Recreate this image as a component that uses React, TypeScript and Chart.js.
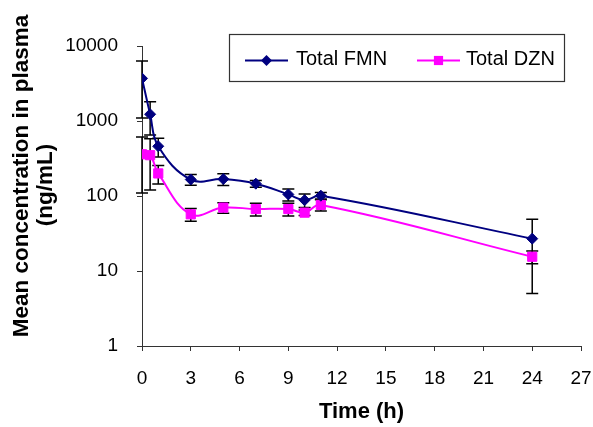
import React, { useEffect, useRef } from 'react';
import { Chart, registerables } from 'chart.js';

Chart.register(...registerables);

// ---- Data ----
const times = [0, 0.5, 1, 3, 5, 7, 9, 10, 11, 24];
const fmnMean = [3700, 1230, 460, 166, 168, 146, 105, 88, 101, 27];
const fmnSd = [2600, 580, 130, 27, 30, 15, 19, 18, 10, 22];
const dznMean = [360, 350, 200, 57, 70, 67, 67, 60, 76, 15.5];
const dznSd = [250, 230, 55, 11, 11, 13, 13, 5, 13, 3];
const seriesNames = ['Total FMN', 'Total DZN'];
const yTicks = [1, 10, 100, 1000, 10000];
const xTicks = [0, 3, 6, 9, 12, 15, 18, 21, 24, 27];
const yTitleLines = ['Mean concentration in plasma', '(ng/mL)'];
const xTitle = 'Time (h)';

const FONT = '"Liberation Sans", Arial, Helvetica, sans-serif';
const AXIS = '#333333';

const errorBarPlugin = {
  id: 'errorBars',
  beforeDatasetsDraw(chart: any) {
    const { ctx } = chart;
    const x = chart.scales.x;
    const y = chart.scales.y;
    ctx.save();
    ctx.strokeStyle = '#000000';
    ctx.lineWidth = 1.5;
    chart.data.datasets.forEach((ds: any) => {
      const errs: number[] = ds.errors || [];
      ds.data.forEach((pt: any, j: number) => {
        const e = errs[j];
        if (e == null) return;
        const px = x.getPixelForValue(pt.x);
        const hi = y.getPixelForValue(pt.y + e);
        const lo = y.getPixelForValue(Math.max(pt.y - e, 0.001));
        const cap = 6;
        ctx.beginPath();
        ctx.moveTo(px, hi);
        ctx.lineTo(px, lo);
        ctx.moveTo(px - cap, hi);
        ctx.lineTo(px + cap, hi);
        ctx.moveTo(px - cap, lo);
        ctx.lineTo(px + cap, lo);
        ctx.stroke();
      });
    });
    ctx.restore();
  },
};

const boxLegendPlugin = {
  id: 'boxLegend',
  afterDraw(chart: any) {
    const { ctx } = chart;
    ctx.save();
    ctx.strokeStyle = '#333333';
    ctx.lineWidth = 1.2;
    ctx.strokeRect(229.5, 34.5, 335, 47);
    const items = [
      { lineX0: 245, lineX1: 288, textX: 296 },
      { lineX0: 417, lineX1: 460, textX: 466 },
    ];
    const ly = 60.5;
    chart.data.datasets.forEach((ds: any, i: number) => {
      const it = items[i];
      ctx.strokeStyle = ds.borderColor;
      ctx.lineWidth = 2;
      ctx.beginPath();
      ctx.moveTo(it.lineX0, ly);
      ctx.lineTo(it.lineX1, ly);
      ctx.stroke();
      const cx = (it.lineX0 + it.lineX1) / 2;
      ctx.fillStyle = ds.backgroundColor;
      ctx.beginPath();
      if (ds.pointStyle === 'rectRot') {
        const r = ds.pointRadius;
        ctx.moveTo(cx - r, ly);
        ctx.lineTo(cx, ly - r);
        ctx.lineTo(cx + r, ly);
        ctx.lineTo(cx, ly + r);
        ctx.closePath();
      } else {
        const s = ds.pointRadius * Math.SQRT1_2;
        ctx.rect(cx - s, ly - s, 2 * s, 2 * s);
      }
      ctx.fill();
      ctx.fillStyle = '#000000';
      ctx.font = `20px ${FONT}`;
      ctx.textAlign = 'left';
      ctx.textBaseline = 'alphabetic';
      ctx.fillText(ds.label, it.textX, 65);
    });
    ctx.restore();
  },
};

const yTitlePlugin = {
  id: 'yTitle',
  afterDraw(chart: any) {
    const { ctx } = chart;
    ctx.save();
    ctx.fillStyle = '#000000';
    ctx.font = `bold 22.5px ${FONT}`;
    ctx.textAlign = 'center';
    ctx.textBaseline = 'middle';
    const xs = [22, 46];
    const ys = [176, 185];
    yTitleLines.forEach((line, i) => {
      ctx.save();
      ctx.translate(xs[i], ys[i]);
      ctx.rotate(-Math.PI / 2);
      ctx.fillText(line, 0, 0);
      ctx.restore();
    });
    ctx.restore();
  },
};

export default function App() {
  const ref = useRef<HTMLCanvasElement | null>(null);

  useEffect(() => {
    if (!ref.current) return;
    const chart = new Chart(ref.current, {
      type: 'line',
      data: {
        datasets: [
          {
            label: seriesNames[0],
            data: times.map((t, i) => ({ x: t, y: fmnMean[i] })),
            errors: fmnSd,
            borderColor: '#000080',
            backgroundColor: '#000080',
            borderWidth: 2,
            pointStyle: 'rectRot',
            pointRadius: 5.5,
            pointBorderWidth: 1,
            tension: 0.4,
            fill: false,
          } as any,
          {
            label: seriesNames[1],
            data: times.map((t, i) => ({ x: t, y: dznMean[i] })),
            errors: dznSd,
            borderColor: '#FF00FF',
            backgroundColor: '#FF00FF',
            borderWidth: 2,
            pointStyle: 'rect',
            pointRadius: 6.5,
            pointBorderWidth: 1,
            tension: 0.4,
            fill: false,
          } as any,
        ],
      },
      options: {
        animation: false,
        responsive: false,
        devicePixelRatio: 1,
        layout: { padding: { top: 46, right: 12, bottom: 0, left: 0 } },
        plugins: {
          legend: { display: false },
          tooltip: { enabled: false },
        },
        scales: {
          x: {
            type: 'linear',
            min: 0,
            max: 27,
            afterFit: (s: any) => {
              s.height = 81;
              s.paddingLeft = 0;
              s.paddingRight = 0;
            },
            afterBuildTicks: (s: any) => {
              s.ticks = xTicks.map((v) => ({ value: v }));
            },
            ticks: {
              autoSkip: false,
              maxRotation: 0,
              padding: 16,
              color: '#000000',
              font: { family: FONT, size: 19 },
              callback: (v: any) => String(v),
            },
            grid: {
              drawOnChartArea: false,
              drawTicks: true,
              tickLength: 5,
              color: AXIS,
              tickColor: AXIS,
              lineWidth: 1,
            },
            border: { display: true, color: AXIS, width: 1 },
            title: {
              display: true,
              text: xTitle,
              color: '#000000',
              font: { family: FONT, size: 22, weight: 'bold' },
              padding: { top: 0, bottom: 2 },
            },
          },
          y: {
            type: 'logarithmic',
            min: 1,
            max: 10000,
            afterFit: (s: any) => {
              s.width = 142;
              s.paddingTop = 0;
              s.paddingBottom = 0;
            },
            afterBuildTicks: (s: any) => {
              s.ticks = yTicks.map((v) => ({ value: v }));
            },
            ticks: {
              autoSkip: false,
              padding: 19,
              color: '#000000',
              font: { family: FONT, size: 19 },
              callback: (v: any) => String(v),
            },
            grid: {
              drawOnChartArea: false,
              drawTicks: true,
              tickLength: 5,
              color: AXIS,
              tickColor: AXIS,
              lineWidth: 1,
            },
            border: { display: true, color: AXIS, width: 1 },
          },
        },
      } as any,
      plugins: [errorBarPlugin, boxLegendPlugin, yTitlePlugin],
    });
    return () => chart.destroy();
  }, []);

  return (
    <div style={{ position: 'absolute', left: 0, top: 0, width: 593, height: 427, background: '#ffffff' }}>
      <canvas ref={ref} width={593} height={427} style={{ display: 'block', width: 593, height: 427 }} />
    </div>
  );
}
